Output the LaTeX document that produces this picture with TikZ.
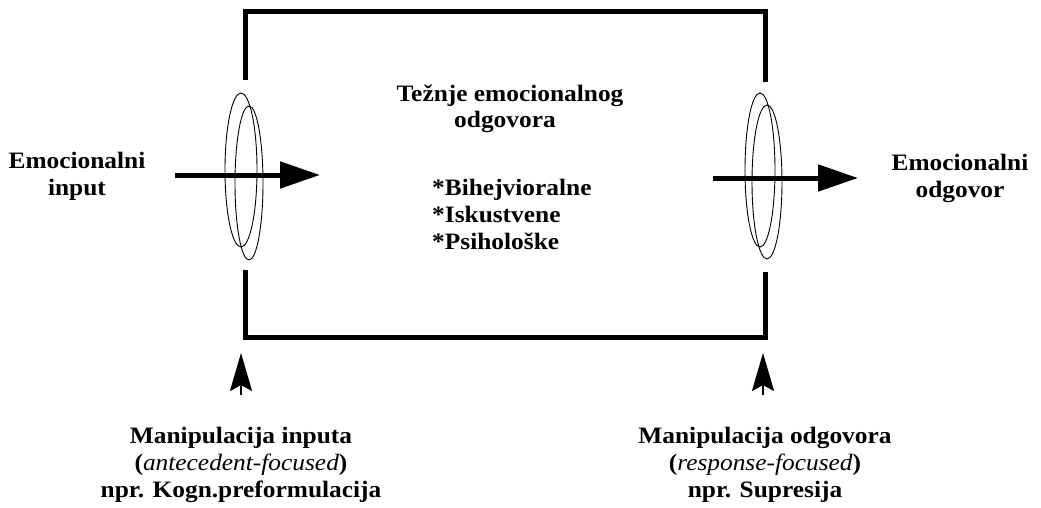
\documentclass[tikz,border=0pt]{standalone}
\usepackage{fontspec}
\setmainfont{Liberation Serif}[FakeStretch=1.08]
\usetikzlibrary{arrows.meta}
\begin{document}
\begin{tikzpicture}[x=1pt,y=-1pt,
  lbl/.style={font=\fontsize{23.5}{27}\selectfont\bfseries, align=center, inner sep=0pt},
  frame/.style={line width=5pt, line cap=butt, line join=miter},
  ring/.style={line width=0.9pt},
  bigarrow/.style={line width=5pt, -{Triangle[length=40pt,width=26pt]}},
  uparrow/.style={line width=2.5pt, -{Stealth[length=38pt,width=22pt,inset=6pt]}}
]
\useasboundingbox[fill=white] (0,0) rectangle (1041,508);

% frame
\coordinate (lt) at (245,80);
\coordinate (tl) at (245,12);
\coordinate (tr) at (765,12);
\coordinate (rt) at (765,82);
\coordinate (lb) at (245,270);
\coordinate (bl) at (245,337);
\coordinate (br) at (765,337);
\coordinate (rb) at (765,272);
\draw[frame] (lt) -- (tl) -- (tr) -- (rt);
\draw[frame] (lb) -- (bl) -- (br) -- (rb);

% rings
\draw[ring] (241,170) ellipse [x radius=16, y radius=77];
\draw[ring] (249,183) ellipse [x radius=14, y radius=77];
\draw[ring] (760,170) ellipse [x radius=15, y radius=77];
\draw[ring] (767,182) ellipse [x radius=15, y radius=77];

% main arrows
\coordinate (a1s) at (175,175);
\coordinate (a1e) at (320,175);
\coordinate (a2s) at (713,178);
\coordinate (a2e) at (858,178);
\draw[bigarrow] (a1s) -- (a1e);
\draw[bigarrow] (a2s) -- (a2e);

% labels
\node[lbl] (inp) at (77,176) {Emocionalni\\input};
\node[lbl] (out) at (960,178) {Emocionalni\\odgovor};
\node[lbl] (t1) at (510,96) {Težnje emocionalnog};
\node[lbl] (t2) at (505,122) {odgovora};
\node[lbl, align=left, anchor=west] (list) at (432,214) {*Bihejvioralne\\*Iskustvene\\*Psihološke};
\node[lbl] (m1) at (241,465) {Manipulacija inputa\\(\textit{\mdseries antecedent-focused})\\npr. Kogn.preformulacija};
\node[lbl] (m2) at (765,465) {Manipulacija odgovora\\(\textit{\mdseries response-focused})\\npr. Supresija};

% up arrows
\coordinate (u1s) at (241,395);
\coordinate (u1e) at (241,353);
\coordinate (u2s) at (763,395);
\coordinate (u2e) at (763,353);
\draw[uparrow] (u1s) -- (u1e);
\draw[uparrow] (u2s) -- (u2e);
\end{tikzpicture}
\end{document}
